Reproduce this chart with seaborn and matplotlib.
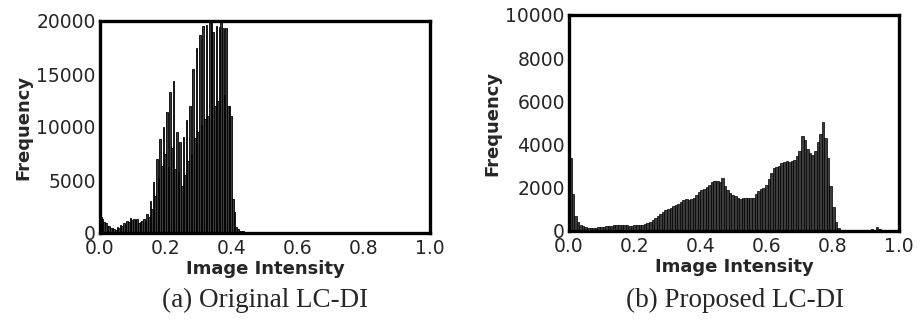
import numpy as np
import pandas as pd
import matplotlib
matplotlib.use("Agg")
import matplotlib.pyplot as plt
import seaborn as sns

# ---- data ----
# (a) Original LC-DI: counts per 0.005-wide bin, 0.0 -> 0.5
orig_counts = [
    1500, 1300, 1000, 900, 700, 650, 500, 450, 400, 320,
    550, 480, 750, 650, 900, 800, 1150, 1000, 1450, 1250,
    1350, 1250, 1300, 900, 1000, 1150, 1350, 1100, 1800, 1500,
    3000, 2300, 4800, 3500, 7000, 5200, 8900, 6300, 10000, 7500,
    11400, 6200, 13300, 8000, 14300, 6000, 9500, 5800, 8600, 4400,
    9100, 5500, 10700, 6800, 12000, 7500, 15500, 9000, 17500, 9500,
    18700, 10200, 19500, 10800, 19600, 11000, 19800, 21500, 19000, 12000,
    19500, 12500, 19400, 21500, 19300, 13000, 19300, 12000, 12000, 11000,
    3200, 2000, 600, 400, 200, 150, 150, 120, 100, 100,
    80, 80, 60, 60, 50, 50, 40, 40, 30, 30,
]
# (b) Proposed LC-DI: counts per 1/128-wide bin, 0.0 -> 1.0
prop_counts = [
    3400, 1700, 700, 400, 300, 250, 200, 150, 150, 150,
    150, 170, 180, 200, 220, 230, 250, 260, 270, 270,
    260, 260, 260, 250, 250, 260, 270, 270, 300, 330,
    370, 420, 500, 620, 700, 800, 870, 950, 1000, 1080,
    1150, 1200, 1250, 1350, 1450, 1500, 1450, 1480, 1550, 1650,
    1800, 1900, 1950, 2050, 2150, 2250, 2300, 2300, 2280, 2450,
    2100, 1900, 1750, 1650, 1600, 1550, 1500, 1550, 1550, 1520,
    1530, 1550, 1700, 1850, 1950, 2000, 2150, 2400, 2700, 2900,
    2950, 3000, 3150, 3200, 3250, 3200, 3250, 3300, 3450, 3700,
    4400, 4200, 3800, 3600, 3500, 3700, 4100, 4500, 5050, 4300,
    3400, 2100, 1100, 400, 150, 60, 40, 30, 30, 30,
    30, 60, 40, 30, 30, 40, 60, 80, 60, 180,
    80, 30, 20, 20, 20, 20, 20, 20,
]
x_ticks = [0.0, 0.2, 0.4, 0.6, 0.8, 1.0]
y_ticks_a = [0, 5000, 10000, 15000, 20000]
y_ticks_b = [0, 2000, 4000, 6000, 8000, 10000]
captions = ["(a) Original LC-DI", "(b) Proposed LC-DI"]
xlabel = "Image Intensity"
ylabel = "Frequency"

sns.set_style("white")
plt.rcParams["font.family"] = ["DejaVu Sans"]

fig = plt.figure(figsize=(9.21, 3.24), dpi=100)
ax_a = fig.add_axes([100/921, (324-233)/324, 330/921, 212/324])
ax_b = fig.add_axes([569/921, (324-231)/324, 330/921, 216/324])

w_a = 0.005
df_a = pd.DataFrame({"x": np.arange(len(orig_counts)) * w_a + w_a / 2, "w": orig_counts})
w_b = 1 / 128
df_b = pd.DataFrame({"x": np.arange(len(prop_counts)) * w_b + w_b / 2, "w": prop_counts})

sns.histplot(data=df_a, x="x", weights="w", binwidth=w_a, binrange=(0, len(orig_counts) * w_a),
             color="#3c3c3c", edgecolor="black", linewidth=0.6, alpha=1, ax=ax_a)
sns.histplot(data=df_b, x="x", weights="w", binwidth=w_b, binrange=(0, 1),
             color="#3c3c3c", edgecolor="black", linewidth=0.5, alpha=1, ax=ax_b)

for ax, yt in [(ax_a, y_ticks_a), (ax_b, y_ticks_b)]:
    ax.set_xlim(0, 1)
    ax.set_ylim(yt[0], yt[-1])
    ax.set_xticks(x_ticks)
    ax.set_xticklabels([f"{v:.1f}" for v in x_ticks])
    ax.set_yticks(yt)
    ax.set_yticklabels([str(v) for v in yt])
    ax.tick_params(axis="both", labelsize=13.5, labelcolor="#262626", length=3,
                   width=1, color="#444", direction="out")
    ax.tick_params(axis="y", pad=0)
    ax.tick_params(axis="x", pad=1)
    for s in ax.spines.values():
        s.set_visible(True)
        s.set_color("black")
        s.set_linewidth(2.4)
    ax.set_xlabel(xlabel, fontsize=13, fontweight="bold", labelpad=2)
    ax.set_ylabel(ylabel, fontsize=13, fontweight="bold", labelpad=3)

fig.text(265/921, 1 - 300/324, captions[0], ha="center", va="center",
         fontsize=19.5, family="Liberation Serif")
fig.text(735/921, 1 - 300/324, captions[1], ha="center", va="center",
         fontsize=19.5, family="Liberation Serif")

fig.savefig("out.png", dpi=100)
